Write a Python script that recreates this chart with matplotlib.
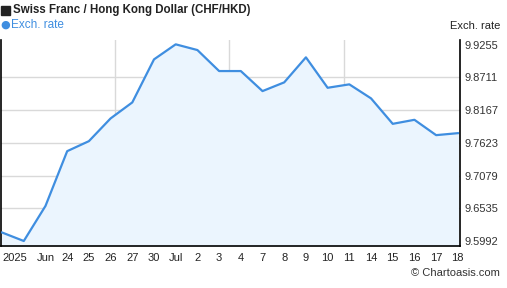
import matplotlib.pyplot as plt
from matplotlib.patches import Rectangle

# CHF/HKD daily rates, 19 Jun - 18 Jul 2025 (business days)
rates = [9.6133, 9.5992, 9.6575, 9.7485, 9.7651, 9.8029, 9.8295, 9.9010,
         9.9260, 9.9165, 9.8816, 9.8816, 9.8483, 9.8628, 9.9044, 9.8538,
         9.8595, 9.8362, 9.7939, 9.8006, 9.7751, 9.7784]
x_labels = ["2025", "", "Jun", "24", "25", "26", "27", "30", "Jul", "2", "3",
            "4", "7", "8", "9", "10", "11", "14", "15", "16", "17", "18"]
y_ticks = [9.5992, 9.6535, 9.7079, 9.7623, 9.8167, 9.8711, 9.9255]
week_grid = [5.2, 10.45, 15.75]

line_col = "#3f8ee0"
fill_col = "#ebf5fe"
grid_col = "#d9d9d9"
plt.rcParams['font.family'] = ['Liberation Sans', 'DejaVu Sans']

W, H = 507, 288
fig = plt.figure(figsize=(W / 100, H / 100), dpi=100)
ax = fig.add_axes([1 / W, (H - 246) / H, 459 / W, 206 / H])

idx = list(range(len(rates)))
ymin, ymax = 9.5909, 9.9332
ax.fill_between(idx, rates, ymin, color=fill_col, zorder=1)
ax.plot(idx, rates, color=line_col, lw=1.6, zorder=3)

for v in y_ticks[1:-1]:
    ax.axhline(v, color=grid_col, lw=1, zorder=0.5)
for g in week_grid:
    ax.axvline(g, color=grid_col, lw=1, zorder=0.5)

ax.set_xlim(-0.05, 21.1)
ax.set_ylim(ymin, ymax)

ax.spines["top"].set_visible(False)
for s in ["left", "right", "bottom"]:
    ax.spines[s].set_color("black")
    ax.spines[s].set_linewidth(1.2)

ax.yaxis.tick_right()
ax.set_yticks(y_ticks)
ax.set_yticklabels([f"{v:.4f}" for v in y_ticks], fontsize=8, color="#333333")
ax.tick_params(axis="y", length=0, pad=3)

ax.set_xticks(idx)
ax.set_xticklabels(x_labels, fontsize=8, color="#222222")
ax.tick_params(axis="x", length=0, pad=5)
first = ax.get_xticklabels()[0]
first.set_ha("left")
first.set_x(-0.05)

fig.patches.append(Rectangle((1 / W, (H - 15) / H), 9 / W, 9 / H,
                             transform=fig.transFigure, color="#222222"))
fig.text(13 / W, 1 - 10 / H, "Swiss Franc / Hong Kong Dollar (CHF/HKD)",
         fontsize=8.3, fontweight="bold", va="center", ha="left", color="#222222")
fig.text(0 / W, 1 - 25 / H, "\u25cf", fontsize=8, va="center", ha="left",
         color=line_col, family="DejaVu Sans")
fig.text(11 / W, 1 - 25 / H, "Exch. rate", fontsize=8.5, va="center",
         ha="left", color=line_col)
fig.text(500 / W, 1 - 26 / H, "Exch. rate", fontsize=8, va="center",
         ha="right", color="#222222")
fig.text(500 / W, 1 - 273 / H, "\u00a9 Chartoasis.com", fontsize=8,
         va="center", ha="right", color="#333333")

fig.savefig("out.png", dpi=100)
